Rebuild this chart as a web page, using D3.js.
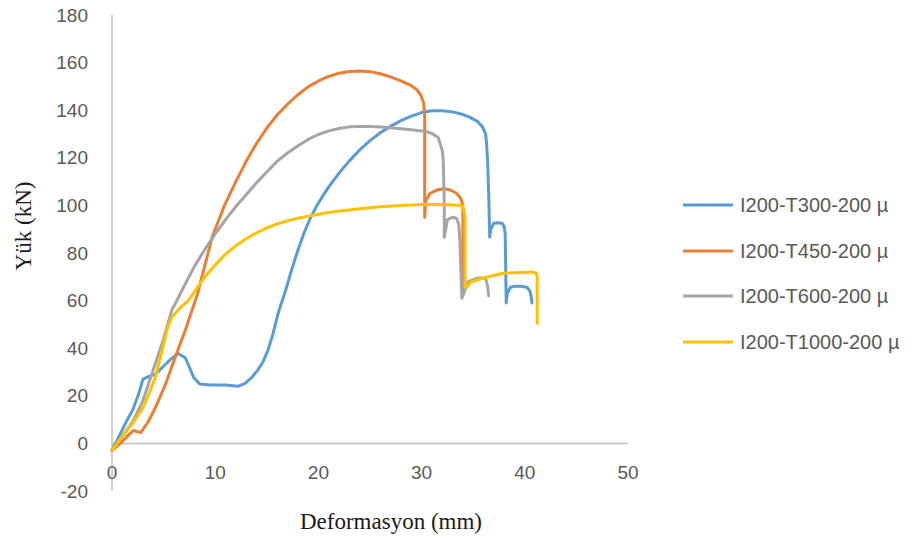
<!DOCTYPE html>
<html>
<head>
<meta charset="utf-8">
<script src="https://cdn.jsdelivr.net/npm/d3@7/dist/d3.min.js"></script>
<style>
  html, body { margin: 0; padding: 0; background: #fff; }
  svg { display: block; }
</style>
</head>
<body>
<svg id="chart" width="917" height="540"></svg>
<script>
// ---- Data ----
const seriesNames = ["I200-T300-200 µ", "I200-T450-200 µ", "I200-T600-200 µ", "I200-T1000-200 µ"];
const seriesColors = ["#5B9BD5", "#ED7D31", "#A5A5A5", "#FFC000"];

const t300X = [0, 0.7, 1.3, 2.0, 2.6, 3.0, 3.5, 4.2, 4.9, 5.6, 6.4, 7.1, 7.5, 7.9, 8.5, 9.5, 11, 12.2, 12.9, 13.5, 14.1, 14.6, 15.1, 15.6, 16.1, 16.8, 17.4, 18.0, 18.6, 19.2, 19.8, 20.4, 21, 22, 23, 24, 25, 26, 27, 28, 29, 30, 31, 32, 33, 34, 34.7, 35.4, 35.9, 36.2, 36.3, 36.4, 36.5, 36.6, 36.7, 37.0, 37.4, 37.8, 38.0, 38.1, 38.2, 38.3, 38.6, 39.0, 39.6, 40.2, 40.5, 40.6, 40.7];
const t300Y = [-3, 3, 8.4, 14, 21, 27, 28, 29, 32, 35, 37.8, 36, 32, 27.8, 25, 24.5, 24.5, 24, 25.2, 27.5, 30.7, 34, 39, 46, 54.7, 64, 72.8, 81, 88.3, 94.5, 99.5, 103.8, 107.8, 113.6, 118.7, 123.3, 127.2, 130.5, 133.3, 135.6, 137.5, 139, 139.8, 139.8, 139.3, 138.2, 137, 135.3, 133, 130, 126, 118, 105, 86.6, 90, 92.5, 92.7, 92.5, 91, 88, 59, 63, 65.6, 66, 66, 65.6, 64, 62, 59];

const t450X = [0, 0.8, 1.6, 2.1, 2.4, 2.8, 3.5, 4.3, 5.2, 6.1, 7.1, 8.3, 9.7, 10.9, 12, 13, 14, 15, 16, 17, 18, 19, 20, 21, 22, 23, 24, 25, 26, 27, 28, 29, 29.5, 29.9, 30.2, 30.3, 30.3, 30.4, 30.8, 31.5, 32.1, 32.8, 33.4, 33.8, 34.0, 34.0];
const t450Y = [-3, 0, 3.5, 5.5, 5, 4.6, 9, 16, 25, 36, 47.5, 63, 86.6, 100, 110, 118.5, 126, 132.5, 138, 142.5, 146.5, 149.8, 152.3, 154.2, 155.5, 156.3, 156.5, 156.2, 155.3, 154, 152.3, 150.3, 148.8, 146.5, 143, 137, 95, 102, 105, 106.5, 107, 106.5, 105, 103, 100, 62];

const t600X = [0, 1, 2, 3, 4, 5, 5.8, 6.4, 7.1, 8.0, 9.0, 10, 11, 12, 13, 14, 15, 16, 17, 18, 19, 20, 21, 22, 23, 24, 25, 26, 27, 28, 29, 30, 30.5, 31.1, 31.6, 31.8, 32.0, 32.1, 32.2, 32.2, 32.5, 33.0, 33.4, 33.6, 33.7, 33.9, 34.5, 35.5, 36.2, 36.4, 36.5];
const t600Y = [-3, 3, 9, 18, 31, 44, 56, 61, 67, 74.5, 81.5, 88, 94, 99.5, 104.5, 109.5, 114, 118.5, 122, 125, 127.7, 129.8, 131.3, 132.3, 133, 133.2, 133.2, 132.9, 132.6, 132.2, 131.8, 131.3, 131, 130, 128.5, 126, 123, 119, 100, 86.6, 94, 95, 94.5, 92, 86, 61, 68, 69.5, 69.5, 66, 62];

const t1000X = [0, 1, 2, 3, 3.6, 4.2, 4.8, 5.4, 5.8, 6.5, 7.4, 8.2, 9.0, 10, 11, 12, 13, 14, 15, 16, 17, 18, 19, 20, 21, 22, 23, 24, 25, 26, 28, 30, 31.5, 33.0, 33.9, 34.1, 34.2, 34.2, 34.4, 34.7, 36, 37.9, 39.5, 40.8, 41.1, 41.2, 41.2];
const t1000Y = [-3, 3, 8.4, 15, 21, 27.8, 38, 48.8, 53, 56.5, 60, 65, 70, 75, 79.5, 83, 86, 88.5, 90.5, 92.2, 93.5, 94.6, 95.5, 96.3, 97, 97.6, 98.1, 98.6, 99, 99.4, 100, 100.4, 100.5, 100.2, 100, 98, 95, 65.6, 65.6, 67.7, 69.5, 71.5, 71.8, 72, 71.5, 70, 50.5];

const xTicks = [0, 10, 20, 30, 40, 50];
const yTicks = [-20, 0, 20, 40, 60, 80, 100, 120, 140, 160, 180];

const xTitle = "Deformasyon (mm)";
const yTitle = "Yük (kN)";

// ---- Build series ----
const seriesX = [t300X, t450X, t600X, t1000X];
const seriesY = [t300Y, t450Y, t600Y, t1000Y];
const series = seriesNames.map((name, i) => ({
  name, color: seriesColors[i],
  points: seriesX[i].map((x, j) => [x, seriesY[i][j]])
}));

// ---- Layout ----
const svg = d3.select("#chart");
const x = d3.scaleLinear().domain([0, 50]).range([112, 628]);
const y = d3.scaleLinear().domain([-20, 180]).range([491, 15]);

const axisColor = "#BFBFBF";
const labelColor = "#595959";
const tickFont = "'Liberation Sans', Arial, sans-serif";

// vertical axis line
svg.append("line")
  .attr("x1", x(0)).attr("x2", x(0))
  .attr("y1", y(180)).attr("y2", y(-20))
  .attr("stroke", axisColor).attr("stroke-width", 1.5);

// horizontal axis line at 0
svg.append("line")
  .attr("x1", x(0)).attr("x2", x(50))
  .attr("y1", y(0)).attr("y2", y(0))
  .attr("stroke", axisColor).attr("stroke-width", 1.5);

// y tick labels
svg.append("g").selectAll("text").data(yTicks).join("text")
  .attr("x", 88)
  .attr("y", d => y(d))
  .attr("dy", "0.35em")
  .attr("text-anchor", "end")
  .attr("font-family", tickFont)
  .attr("font-size", 19)
  .attr("fill", labelColor)
  .text(d => d);

// x tick labels (low position)
svg.append("g").selectAll("text").data(xTicks).join("text")
  .attr("x", d => x(d))
  .attr("y", 472)
  .attr("dy", "0.35em")
  .attr("text-anchor", "middle")
  .attr("font-family", tickFont)
  .attr("font-size", 19)
  .attr("fill", labelColor)
  .text(d => d);

// axis titles
svg.append("text")
  .attr("x", 391).attr("y", 529)
  .attr("text-anchor", "middle")
  .attr("font-family", "'Liberation Serif', 'Times New Roman', serif")
  .attr("font-size", 23)
  .attr("fill", "#1a1a1a")
  .text(xTitle);

svg.append("text")
  .attr("transform", "translate(31,226) rotate(-90)")
  .attr("text-anchor", "middle")
  .attr("font-family", "'Liberation Serif', 'Times New Roman', serif")
  .attr("font-size", 23)
  .attr("fill", "#1a1a1a")
  .text(yTitle);

// lines
const line = d3.line().x(d => x(d[0])).y(d => y(d[1])).curve(d3.curveLinear);
svg.append("g").selectAll("path").data(series).join("path")
  .attr("d", d => line(d.points))
  .attr("fill", "none")
  .attr("stroke", d => d.color)
  .attr("stroke-width", 3)
  .attr("stroke-linejoin", "round")
  .attr("stroke-linecap", "round");

// legend
const legendRowsY = [205, 251, 296, 342];
const lg = svg.append("g").selectAll("g").data(series).join("g")
  .attr("transform", (d, i) => `translate(683,${legendRowsY[i]})`);
lg.append("line")
  .attr("x1", 0).attr("x2", 50)
  .attr("y1", 0).attr("y2", 0)
  .attr("stroke", d => d.color).attr("stroke-width", 3);
lg.append("text")
  .attr("x", 57).attr("y", 0).attr("dy", "0.35em")
  .attr("font-family", tickFont)
  .attr("font-size", 20)
  .attr("fill", labelColor)
  .text(d => d.name);
</script>
</body>
</html>
